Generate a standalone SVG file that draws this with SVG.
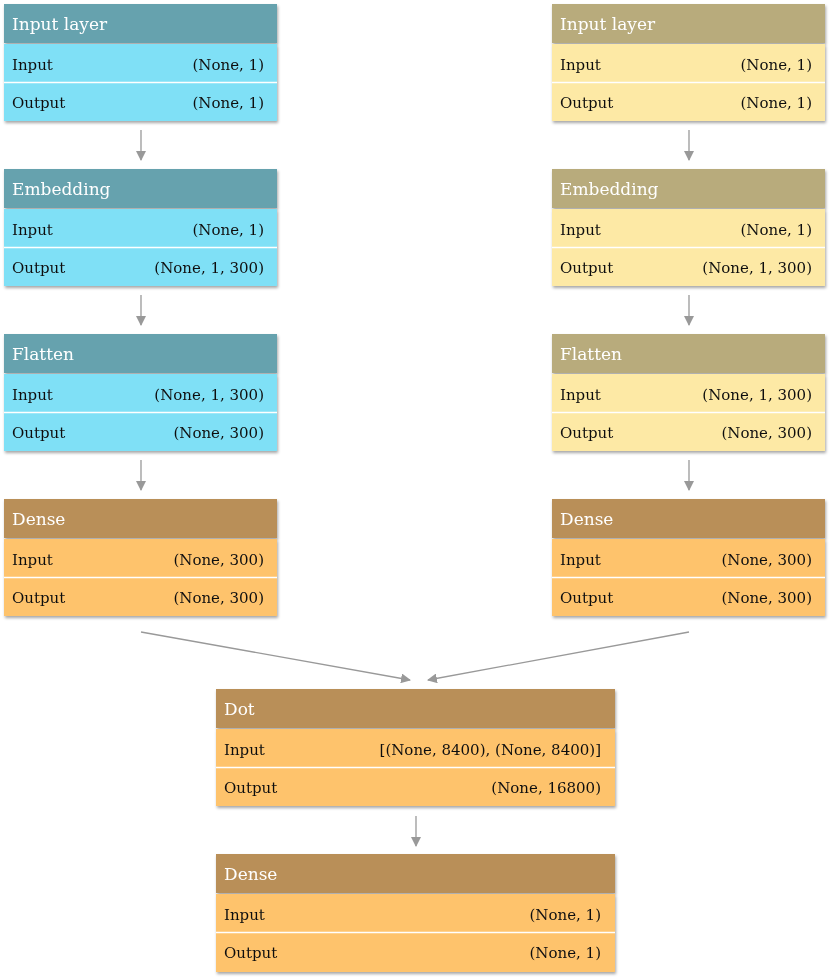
<svg xmlns="http://www.w3.org/2000/svg" width="830" height="978" viewBox="0 0 830 978">
<defs>
<filter id="sh" x="-5%" y="-5%" width="110%" height="115%">
<feDropShadow dx="1" dy="2" stdDeviation="1.5" flood-color="#000" flood-opacity="0.35"/>
</filter>
<marker id="ah" markerWidth="10" markerHeight="10" refX="9" refY="5" orient="auto" markerUnits="userSpaceOnUse">
<path d="M0,0 L10,5 L0,10 z" fill="#999"/>
</marker>
<style>
.t{font-family:"DejaVu Serif","Liberation Serif",serif;}
.h{font-size:17px;fill:#fff;}
.r{font-size:15px;fill:#111;}
.e{text-anchor:end;}
.sep{stroke:#fff;stroke-width:1.5;}
.hb{fill:#66a2ae;} .rb{fill:#7fe0f6;}
.ht{fill:#b8ab7c;} .rt{fill:#fde9a5;}
.hd{fill:#b98f58;} .rd{fill:#fec36c;}
.c{stroke:#999;stroke-width:1.3;fill:none;}
</style>
</defs>
<g id="connectors">
<line class="c" x1="141" y1="130" x2="141" y2="160" marker-end="url(#ah)"/>
<line class="c" x1="141" y1="295" x2="141" y2="325" marker-end="url(#ah)"/>
<line class="c" x1="141" y1="460" x2="141" y2="490" marker-end="url(#ah)"/>
<line class="c" x1="689" y1="130" x2="689" y2="160" marker-end="url(#ah)"/>
<line class="c" x1="689" y1="295" x2="689" y2="325" marker-end="url(#ah)"/>
<line class="c" x1="689" y1="460" x2="689" y2="490" marker-end="url(#ah)"/>
<line class="c" x1="141" y1="632" x2="410" y2="680" marker-end="url(#ah)"/>
<line class="c" x1="689" y1="632" x2="428" y2="680" marker-end="url(#ah)"/>
<line class="c" x1="416" y1="816" x2="416" y2="846" marker-end="url(#ah)"/>
</g>
<g id="l_input" filter="url(#sh)">
<rect class="hb" x="4" y="4" width="273" height="39"/>
<rect class="rb" x="4" y="44" width="273" height="77"/>
<line class="sep" x1="4" y1="82.5" x2="277" y2="82.5"/>
<text class="t h" x="12" y="30">Input layer</text>
<text class="t r" x="12" y="70">Input</text><text class="t r e" x="264" y="70">(None, 1)</text>
<text class="t r" x="12" y="108">Output</text><text class="t r e" x="264" y="108">(None, 1)</text>
</g>
<g id="l_emb" filter="url(#sh)">
<rect class="hb" x="4" y="169" width="273" height="39"/>
<rect class="rb" x="4" y="209" width="273" height="77"/>
<line class="sep" x1="4" y1="247.5" x2="277" y2="247.5"/>
<text class="t h" x="12" y="195">Embedding</text>
<text class="t r" x="12" y="235">Input</text><text class="t r e" x="264" y="235">(None, 1)</text>
<text class="t r" x="12" y="273">Output</text><text class="t r e" x="264" y="273">(None, 1, 300)</text>
</g>
<g id="l_flat" filter="url(#sh)">
<rect class="hb" x="4" y="334" width="273" height="39"/>
<rect class="rb" x="4" y="374" width="273" height="77"/>
<line class="sep" x1="4" y1="412.5" x2="277" y2="412.5"/>
<text class="t h" x="12" y="360">Flatten</text>
<text class="t r" x="12" y="400">Input</text><text class="t r e" x="264" y="400">(None, 1, 300)</text>
<text class="t r" x="12" y="438">Output</text><text class="t r e" x="264" y="438">(None, 300)</text>
</g>
<g id="l_dense" filter="url(#sh)">
<rect class="hd" x="4" y="499" width="273" height="39"/>
<rect class="rd" x="4" y="539" width="273" height="77"/>
<line class="sep" x1="4" y1="577.5" x2="277" y2="577.5"/>
<text class="t h" x="12" y="525">Dense</text>
<text class="t r" x="12" y="565">Input</text><text class="t r e" x="264" y="565">(None, 300)</text>
<text class="t r" x="12" y="603">Output</text><text class="t r e" x="264" y="603">(None, 300)</text>
</g>
<g id="r_input" filter="url(#sh)">
<rect class="ht" x="552" y="4" width="273" height="39"/>
<rect class="rt" x="552" y="44" width="273" height="77"/>
<line class="sep" x1="552" y1="82.5" x2="825" y2="82.5"/>
<text class="t h" x="560" y="30">Input layer</text>
<text class="t r" x="560" y="70">Input</text><text class="t r e" x="812" y="70">(None, 1)</text>
<text class="t r" x="560" y="108">Output</text><text class="t r e" x="812" y="108">(None, 1)</text>
</g>
<g id="r_emb" filter="url(#sh)">
<rect class="ht" x="552" y="169" width="273" height="39"/>
<rect class="rt" x="552" y="209" width="273" height="77"/>
<line class="sep" x1="552" y1="247.5" x2="825" y2="247.5"/>
<text class="t h" x="560" y="195">Embedding</text>
<text class="t r" x="560" y="235">Input</text><text class="t r e" x="812" y="235">(None, 1)</text>
<text class="t r" x="560" y="273">Output</text><text class="t r e" x="812" y="273">(None, 1, 300)</text>
</g>
<g id="r_flat" filter="url(#sh)">
<rect class="ht" x="552" y="334" width="273" height="39"/>
<rect class="rt" x="552" y="374" width="273" height="77"/>
<line class="sep" x1="552" y1="412.5" x2="825" y2="412.5"/>
<text class="t h" x="560" y="360">Flatten</text>
<text class="t r" x="560" y="400">Input</text><text class="t r e" x="812" y="400">(None, 1, 300)</text>
<text class="t r" x="560" y="438">Output</text><text class="t r e" x="812" y="438">(None, 300)</text>
</g>
<g id="r_dense" filter="url(#sh)">
<rect class="hd" x="552" y="499" width="273" height="39"/>
<rect class="rd" x="552" y="539" width="273" height="77"/>
<line class="sep" x1="552" y1="577.5" x2="825" y2="577.5"/>
<text class="t h" x="560" y="525">Dense</text>
<text class="t r" x="560" y="565">Input</text><text class="t r e" x="812" y="565">(None, 300)</text>
<text class="t r" x="560" y="603">Output</text><text class="t r e" x="812" y="603">(None, 300)</text>
</g>
<g id="dot" filter="url(#sh)">
<rect class="hd" x="216" y="689" width="399" height="39"/>
<rect class="rd" x="216" y="729" width="399" height="77"/>
<line class="sep" x1="216" y1="767.5" x2="615" y2="767.5"/>
<text class="t h" x="224" y="715">Dot</text>
<text class="t r" x="224" y="755">Input</text><text class="t r e" x="601" y="755">[(None, 8400), (None, 8400)]</text>
<text class="t r" x="224" y="793">Output</text><text class="t r e" x="601" y="793">(None, 16800)</text>
</g>
<g id="dense_out" filter="url(#sh)">
<rect class="hd" x="216" y="854" width="399" height="39"/>
<rect class="rd" x="216" y="894" width="399" height="78"/>
<line class="sep" x1="216" y1="932.5" x2="615" y2="932.5"/>
<text class="t h" x="224" y="880">Dense</text>
<text class="t r" x="224" y="920">Input</text><text class="t r e" x="601" y="920">(None, 1)</text>
<text class="t r" x="224" y="958">Output</text><text class="t r e" x="601" y="958">(None, 1)</text>
</g>
</svg>
